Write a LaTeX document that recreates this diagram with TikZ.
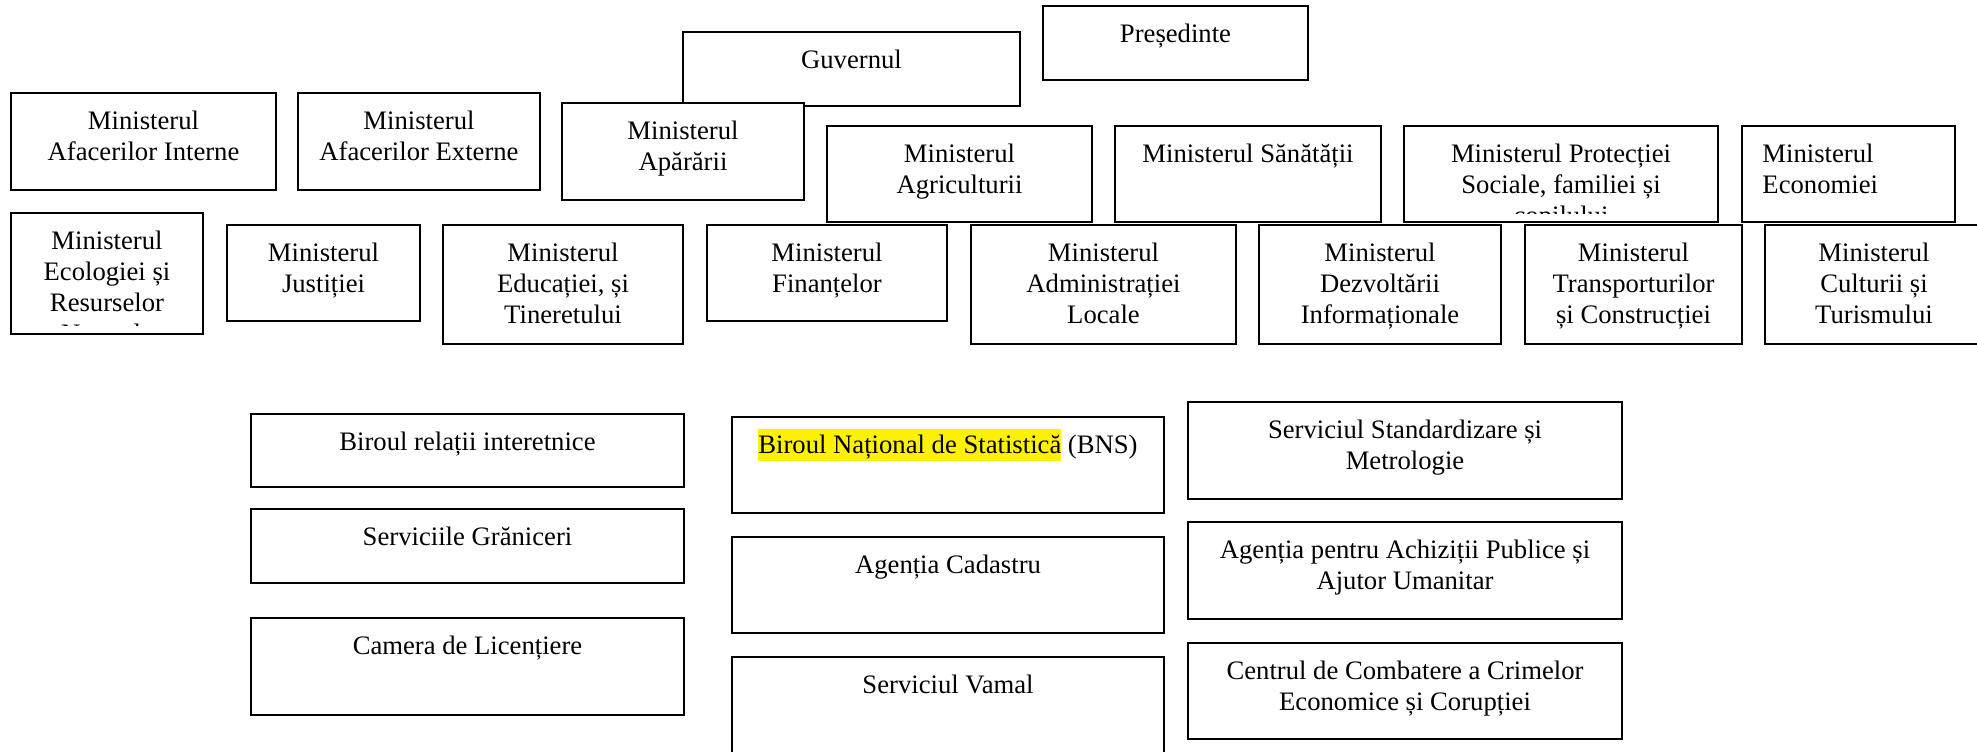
\documentclass[tikz,border=0pt]{standalone}
\usepackage{fontspec}
\setmainfont{Liberation Serif}
\usepackage{tikz}

\tikzset{
  orgline/.style={draw=black, fill=white, line width=0.9pt},
  orgtext/.style={anchor=north, align=center, inner sep=0pt,
    font=\fontsize{12}{13.95}\selectfont},
}

% box with its text set near the top edge (text cut at the inner margin)
\newcommand{\orgbox}[6]{%
  \draw[orgline] (#2,#3) rectangle (#4,#5);
  \begin{scope}
    \clip (#2,#3) rectangle (#4,{#5-9});
    \node[orgtext] (#1) at ({(#2+#4)/2},{#3+16}) {\rule{0pt}{9pt}#6};
  \end{scope}}

% yellow marker behind a piece of text
\newcommand{\hilite}[1]{{\setlength{\fboxsep}{0pt}%
  \smash{\colorbox{yellow}{\rule[-3.2pt]{0pt}{14.4pt}#1}}}}

\begin{document}
\begin{tikzpicture}[x=0.45pt,y=-0.45pt]
  \useasboundingbox (0,0) rectangle (1977,751);

  % Top
  \orgbox{gov}{683}{32}{1020}{106}{Guvernul}
  \orgbox{pres}{1043}{6}{1308}{80}{Președinte}

  % First row of ministries
  \orgbox{mai}{11}{93}{276}{190}{Ministerul\\Afacerilor Interne}
  \orgbox{mae}{298}{93}{540}{190}{Ministerul\\Afacerilor Externe}
  \orgbox{apar}{562}{103}{804}{200}{Ministerul\\Apărării}
  \orgbox{agri}{827}{126}{1092}{222}{Ministerul\\Agriculturii}
  \orgbox{san}{1115}{126}{1381}{222}{Ministerul Sănătății}
  \orgbox{prot}{1404}{126}{1718}{222}{Ministerul Protecției\\Sociale, familiei și\\copilului}
  \draw[orgline] (1742,126) rectangle (1955,222);
  \node[orgtext, anchor=north west, align=left] (econ) at (1762,142) {\rule{0pt}{9pt}Ministerul\\Economiei};

  % Second row of ministries
  \orgbox{eco}{11}{213}{203}{334}{Ministerul\\Ecologiei și\\Resurselor\\Naturale}
  \orgbox{just}{227}{225}{420}{321}{Ministerul\\Justiției}
  \orgbox{edu}{443}{225}{683}{344}{Ministerul\\Educației, și\\Tineretului}
  \orgbox{fin}{707}{225}{947}{321}{Ministerul\\Finanțelor}
  \orgbox{adm}{971}{225}{1236}{344}{Ministerul\\Administrației\\Locale}
  \orgbox{dezv}{1259}{225}{1501}{344}{Ministerul\\Dezvoltării\\Informaționale}
  \orgbox{trans}{1525}{225}{1742}{344}{Ministerul\\Transporturilor\\și Construcției}
  \orgbox{cult}{1765}{225}{1983}{344}{Ministerul\\Culturii și\\Turismului}

  % Offices and services
  \orgbox{bri}{251}{414}{684}{487}{Biroul relații interetnice}
  \orgbox{gran}{251}{509}{684}{583}{Serviciile Grăniceri}
  \orgbox{lic}{251}{618}{684}{715}{Camera de Licențiere}
  \orgbox{bns}{732}{417}{1164}{513}{\hilite{Biroul Național de Statistică} (BNS)}
  \orgbox{cad}{732}{537}{1164}{633}{Agenția Cadastru}
  \orgbox{vam}{732}{657}{1164}{790}{Serviciul Vamal}
  \orgbox{std}{1188}{402}{1622}{499}{Serviciul Standardizare și\\Metrologie}
  \orgbox{achiz}{1188}{522}{1622}{619}{Agenția pentru Achiziții Publice și\\Ajutor Umanitar}
  \orgbox{crim}{1188}{643}{1622}{739}{Centrul de Combatere a Crimelor\\Economice și Corupției}
\end{tikzpicture}
\end{document}
